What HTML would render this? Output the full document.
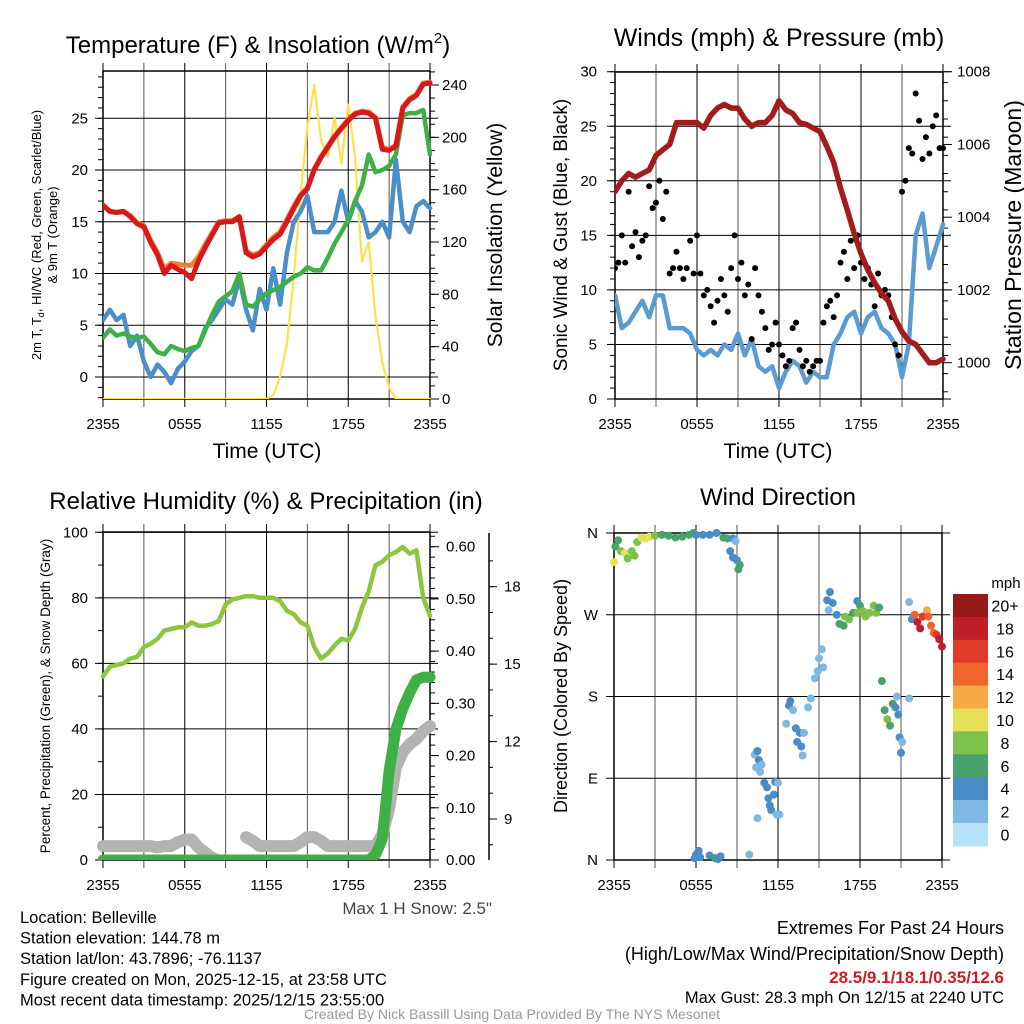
<!DOCTYPE html>
<html><head><meta charset="utf-8">
<style>
html,body{margin:0;padding:0;background:#fff;}
svg{display:block;font-family:"Liberation Sans",Arial,sans-serif;}
</style></head>
<body>
<svg id="chart" width="1024" height="1024" viewBox="0 0 1024 1024"></svg>
<script>
// ---------- DATA ----------
const hours = [0,0.5,1,1.5,2,2.5,3,3.5,4,4.5,5,5.5,6,6.5,7,7.5,8,8.5,9,9.5,10,10.5,11,11.5,12,12.5,13,13.5,14,14.5,15,15.5,16,16.5,17,17.5,18,18.5,19,19.5,20,20.5,21,21.5,22,22.5,23,23.5,24];
const xTickLabels = ["2355","0555","1155","1755","2355"];
const tempRed = [16.6,16.0,15.9,16.0,15.5,14.8,14.5,13.0,11.8,10.0,10.8,10.4,10.1,9.5,11.2,12.5,13.7,14.9,15.0,15.0,15.5,12.0,11.6,11.9,12.6,13.3,13.8,15.0,16.3,17.5,18.2,20.0,21.2,22.2,23.2,24.0,24.8,25.4,25.6,25.5,25.0,22.0,21.9,22.3,26.0,26.8,27.2,28.3,28.4];
const temp9mOrange = [16.6,16.0,15.9,16.0,15.6,14.9,14.6,13.2,12.0,10.4,11.0,10.9,10.8,10.8,11.6,12.8,13.9,15.0,15.1,15.1,15.5,12.2,11.8,12.0,12.8,13.5,14.0,15.2,16.5,17.6,18.3,20.1,21.3,22.3,23.3,24.1,24.9,25.5,25.7,25.6,25.1,22.2,22.0,22.4,26.1,26.9,27.3,28.4,28.5];
const dewGreen = [3.8,4.6,4.0,4.2,3.9,3.8,3.9,3.2,2.4,2.2,3.0,2.7,2.5,2.8,3.0,4.5,6.0,7.3,7.8,8.3,10.0,7.0,6.8,7.5,8.1,8.4,8.7,9.2,9.7,10.0,10.6,10.3,10.3,11.5,12.9,14.0,15.2,17.0,18.5,21.5,19.8,20.0,20.4,21.5,25.3,25.5,25.5,25.8,21.5];
const windChillBlue = [5.5,6.5,5.5,6.0,3.0,4.0,1.5,0.0,1.2,0.5,-0.6,0.8,1.5,2.5,3.0,4.7,5.5,6.5,7.5,7.0,9.5,6.5,4.5,8.5,6.5,10.5,7.0,12.0,15.0,16.0,17.5,14.0,14.0,14.0,15.0,18.0,15.0,17.0,16.0,13.5,14.0,15.0,13.5,21.0,15.0,14.0,16.5,17.0,16.3];
const solarYellow = [0,0,0,0,0,0,0,0,0,0,0,0,0,0,0,0,0,0,0,0,0,0,0,0,0,3,17,42,93,157,208,240,198,185,215,180,225,185,105,120,63,28,9,0,0,0,0,0,0];
const pressure = [1004.7,1005.0,1005.2,1005.1,1005.2,1005.3,1005.7,1005.85,1006.0,1006.6,1006.6,1006.6,1006.6,1006.45,1006.8,1007.0,1007.1,1007.0,1007.0,1006.7,1006.5,1006.6,1006.6,1006.8,1007.2,1006.95,1006.85,1006.6,1006.55,1006.45,1006.35,1005.95,1005.5,1004.8,1004.2,1003.55,1003.0,1002.55,1002.2,1001.9,1001.7,1001.2,1000.85,1000.6,1000.5,1000.25,1000.0,1000.0,1000.1];
const windSpeed = [9.5,6.5,7,8,9,7.5,9.5,9.5,6.5,6.5,6.5,6,4.5,4,4.5,4,5,4.5,6,4,5.5,3,2.5,3,1,2.5,3.5,3,1.5,2.5,2,2,5,6,7.5,8,6,7.5,8,6.5,6,5,2,5,15,17,12,14,16];
const gustHours = [];
for (let i = 0; i <= 96; i++) gustHours.push(i * 0.25);
const gusts = [12,12.5,15,12.5, 19,14,15.3,13, 14.5,15,19.5,17.5, 18,20,16.5,19, 11.5,12,13.5,12, 11,12,14.5,11.5, 15,11.5,9.5,10, 8.5,7,9,11, 9.5,8,12,15, 11,12.5,9.5,10.5, 5.5,12,9.5,8, 6.5,4.5,5,7, 5,4,3,3.5, 6.5,7,4.5,3, 3.5,2.5,3,3.5, 3.5,7,8.5,9, 7.5,9.5,12.5,13.5, 11,14.5,12,15, 12.5,11,12,10.5, 8.5,11.5,9.5,10, 9.5,7.5,5,4, 19,20,23,22.5, 28,25.5,22,24, 22.5,25,26,23, 23];
const relHum = [56,59,59.5,60,61.5,62,65,66,67.5,70,70.5,71,71,72.5,71.5,71.5,72,73,78,79.5,80,80.5,80.5,80,80,80,79,76,75,72.5,71.5,65,61.5,63,65.5,67.5,67,70.5,77,82,90,91,93,94,95.5,93.5,94.5,80,74.5];
const precip = [0,0,0,0,0,0,0,0,0,0,0,0,0,0,0,0,0,0,0,0,0,0,0,0,0,0,0,0,0,0,0,0,0,0,0,0,0,0,0,0,0.01,0.04,0.17,0.25,0.29,0.32,0.345,0.35,0.35];
const snowDepth = [7.95,7.95,7.95,7.95,7.95,7.95,7.95,7.95,7.9,7.95,7.95,8.1,8.2,8.2,7.9,7.7,7.5,7.4,null,null,null,8.3,8.15,7.95,7.95,7.95,7.95,7.95,7.95,8.1,8.3,8.3,8.15,7.95,7.95,7.95,7.95,7.95,7.95,7.95,7.95,8.4,9.4,11.0,11.6,11.9,12.1,12.4,12.6];
const dirHours = [0,0.1,0.3,0.5,0.8,1.0,1.3,1.5,1.7,2.0,2.3,2.6,3.0,3.5,4.0,4.5,5.0,5.5,5.8,6.0,6.5,7.0,7.5,8.0,8.3,8.7,8.9,8.5,8.7,9.0,9.2,9.1,5.9,6.0,6.2,6.3,7.0,7.4,7.8,7.6,9.9,10.3,10.5,10.6,10.8,10.4,10.7,11.0,11.2,11.3,11.4,11.5,10.5,11.8,11.7,12.0,11.9,12.1,12.6,12.8,12.9,13.1,13.3,13.4,13.6,13.7,13.8,13.9,14.2,14.4,14.7,14.9,15.0,15.2,15.3,15.6,15.8,15.7,16.0,16.3,16.5,16.8,17.2,17.5,17.8,18.0,18.2,18.4,18.7,19.0,19.2,19.4,16.9,17.8,19.6,19.8,20.0,20.2,20.4,20.6,20.8,20.9,21.1,21.0,20.7,21.6,21.6,21.8,22.0,22.2,22.4,22.6,22.9,23.0,23.2,23.4,23.6,23.8,24.0];
const dirDeg = [328,345,352,340,338,332,340,335,350,355,354,356,357,358,357,355,356,358,360,358,358,358,360,355,354,354,351,340,333,330,325,320,2,6,10,3,5,2,4,1,6,116,120,110,105,102,97,85,80,68,60,55,46,86,72,85,50,50,150,170,175,165,145,130,140,125,115,140,168,178,200,208,222,232,212,286,295,275,283,270,260,258,265,272,285,280,274,268,272,280,272,278,268,272,197,165,155,148,172,168,160,135,130,118,180,178,284,265,270,262,255,268,275,268,258,250,248,243,235];
const dirSpeed = [10,6,6,8,10,8,8,8,8,10,10,10,8,6,6,6,6,6,6,4,4,4,4,6,6,4,2,4,4,4,6,6,4,4,4,4,4,6,4,4,2,2,4,4,2,2,2,4,4,4,4,4,2,4,4,2,2,2,2,4,4,2,4,4,4,4,2,2,2,2,2,2,2,2,2,4,4,2,4,4,6,6,8,6,4,6,8,8,8,8,8,6,8,8,6,6,8,6,6,4,4,4,2,4,2,2,2,4,14,18,18,16,12,14,14,14,16,18,18];
const speedBins = ["0","2","4","6","8","10","12","14","16","18","20+"];
const speedColors = ["#b5e2f8","#7fb8e2","#4a8cc6","#47a36b","#7dc04a","#e6df57","#f7a948","#f0652d","#e03a2b","#bf1f27","#961a1c"];

// ---------- HELPERS ----------
const NS = "http://www.w3.org/2000/svg";
const svg = document.getElementById("chart");
const TICK = 15;
function mk(tag, attrs, parent) {
  const e = document.createElementNS(NS, tag);
  for (const k in attrs) e.setAttribute(k, attrs[k]);
  (parent || svg).appendChild(e);
  return e;
}
function txt(s, x, y, size, anchor, parent, extra) {
  const t = mk("text", Object.assign({x: x, y: y, "font-size": size, "text-anchor": anchor || "middle", fill: "#000"}, extra || {}), parent);
  t.textContent = s;
  return t;
}
function linFn(d0, d1, r0, r1) { return v => r0 + (v - d0) * (r1 - r0) / (d1 - d0); }
function pathFrom(xs, ys, xf, yf) {
  let d = "", pen = false;
  for (let i = 0; i < xs.length; i++) {
    if (ys[i] === null) { pen = false; continue; }
    d += (pen ? "L" : "M") + xf(xs[i]).toFixed(1) + "," + yf(ys[i]).toFixed(1);
    pen = true;
  }
  return d;
}
function frame(g, x0, x1, y0, y1) {
  const xf = linFn(0, 24, x0, x1);
  for (let h = 0; h <= 24; h += 3) {
    const gl = mk("line", {x1: xf(h), x2: xf(h), y1: y0 - 8, y2: y1 + 8, stroke: (h % 6 === 0) ? "#000" : "#555", "stroke-width": 1}, g);
    
    
  }
  xTickLabels.forEach((s, i) => {
    const t = txt(s, xf(i * 6), y1 + 30, TICK, "middle", g);
    
    
  });
  return xf;
}
function hgrid(g, x0, x1, ys) {
  ys.forEach(y => {
    const l = mk("line", {x1: x0 - 8, x2: x1 + 8, y1: y, y2: y, stroke: "#000", "stroke-width": 1}, g);
    
    
  });
}
function box(g, x0, x1, y0, y1) {
  const r = mk("rect", {x: x0, y: y0, width: x1 - x0, height: y1 - y0, fill: "none", stroke: "#000", "stroke-width": 1.5}, g);
  
  
}
function minorTicks(g, x, yf, from, to, step, dir) {
  for (let v = from; v <= to + 1e-9; v += step) {
    const y = yf(v);
    mk("line", {x1: x, x2: x + dir * 5, y1: y, y2: y, stroke: "#000", "stroke-width": 1}, g);
  }
}

// ---------- PANEL 1 ----------
(function () {
  const g = mk("g", {});  
  const x0 = 103, x1 = 430, y0 = 71, y1 = 399;
  const xf = frame(g, x0, x1, y0, y1);
  const yL = linFn(0, 25, 377, 118.3);
  const yR = linFn(0, 240, 399, 85);
  hgrid(g, x0, x1, [0,5,10,15,20,25].map(yL));
  minorTicks(g, x0, yL, -2, 29, 1, -1);
  minorTicks(g, x1, yR, 0, 250, 10, 1);
  box(g, x0, x1, y0, y1);
  [0,5,10,15,20,25].forEach(v => { const t = txt(String(v), 88, yL(v) + 5, TICK, "end", g);   });
  [0,40,80,120,160,200,240].forEach(v => { mk("line", {x1: x1, x2: x1 + 9, y1: yR(v), y2: yR(v), stroke: "#000"}, g); const t = txt(String(v), 442, yR(v) + 5, TICK, "start", g);   });
  const clip = mk("clipPath", {id: "c1"}, g); mk("rect", {x: x0, y: y0 - 6, width: x1 - x0 + 3, height: y1 - y0 + 6}, clip);
  const s = mk("g", {"clip-path": "url(#c1)"}, g);
  const series = [
    ["solar-insolation-line", solarYellow, yR, "#ffe04d", 2.2],
    ["wind-chill-line", windChillBlue, yL, "#4a8fc9", 4.5],
    ["dewpoint-line", dewGreen, yL, "#3fb046", 4.5],
    ["temp-9m-line", temp9mOrange, yL, "#f47f33", 5],
    ["temp-2m-line", tempRed, yL, "#d7191c", 5]
  ];
  series.forEach(([n, arr, yf, c, w]) => {
    const p = mk("path", {d: pathFrom(hours, arr, xf, yf), fill: "none", stroke: c, "stroke-width": w, "stroke-linejoin": "round", "stroke-linecap": "round"}, s);
    
    
  });
  const t = txt("Temperature (F) & Insolation (W/m", 258, 53, 24, "middle", g);
   
  const sup = mk("tspan", {dy: -10, "font-size": 15}, t); sup.textContent = "2";
  const cl = mk("tspan", {dy: 10}, t); cl.textContent = ")";
  const xl = txt("Time (UTC)", 267, 458, 21, "middle", g);  
  const yl = txt("2m T, T", 0, 0, 13, "middle", g, {transform: "translate(41,235) rotate(-90)"});
   
  const sub = mk("tspan", {dy: 3, "font-size": 9}, yl); sub.textContent = "d";
  const rest = mk("tspan", {dy: -3}, yl); rest.textContent = ", HI/WC (Red, Green, Scarlet/Blue)";
  const yl2 = txt("& 9m T (Orange)", 0, 0, 13, "middle", g, {transform: "translate(57,235) rotate(-90)"});
   
  const yr = txt("Solar Insolation (Yellow)", 0, 0, 21, "middle", g, {transform: "translate(502,235) rotate(-90)"});
   
})();

// ---------- PANEL 2 ----------
(function () {
  const g = mk("g", {});  
  const x0 = 615, x1 = 943, y0 = 72, y1 = 399;
  const xf = frame(g, x0, x1, y0, y1);
  const yL = linFn(0, 30, 399, 71.7);
  const yR = linFn(1000, 1008, 362.7, 71.7);
  hgrid(g, x0, x1, [0,5,10,15,20,25,30].map(yL));
  minorTicks(g, x0, yL, 0, 30, 1, -1);
  minorTicks(g, x1, yR, 999.2, 1008, 0.5, 1);
  box(g, x0, x1, y0, y1);
  [0,5,10,15,20,25,30].forEach(v => { const t = txt(String(v), 597, yL(v) + 5, TICK, "end", g);   });
  [1000,1002,1004,1006,1008].forEach(v => { mk("line", {x1: x1, x2: x1 + 9, y1: yR(v), y2: yR(v), stroke: "#000"}, g); const t = txt(String(v), 957, yR(v) + 5, TICK, "start", g);   });
  const clip = mk("clipPath", {id: "c2"}, g); mk("rect", {x: x0, y: y0, width: x1 - x0 + 3, height: y1 - y0}, clip);
  const s = mk("g", {"clip-path": "url(#c2)"}, g);
  const w = mk("path", {d: pathFrom(hours, windSpeed, xf, yL), fill: "none", stroke: "#5a9bd3", "stroke-width": 4.5, "stroke-linejoin": "round", "stroke-linecap": "round"}, s);
   
  gusts.forEach((v, i) => {
    const c = mk("circle", {cx: xf(gustHours[i]), cy: yL(v), r: 3, fill: "#000"}, s);
    
    
  });
  const p = mk("path", {d: pathFrom(hours, pressure, xf, yR), fill: "none", stroke: "#a31b1b", "stroke-width": 5.5, "stroke-linejoin": "round", "stroke-linecap": "round"}, s);
   
  const t = txt("Winds (mph) & Pressure (mb)", 779, 46, 25, "middle", g);  
  const xl = txt("Time (UTC)", 778, 458, 21, "middle", g);  
  const yl = txt("Sonic Wind & Gust (Blue, Black)", 0, 0, 19, "middle", g, {transform: "translate(567,235) rotate(-90)"});  
  const yr = txt("Station Pressure (Maroon)", 0, 0, 23, "middle", g, {transform: "translate(1021,235) rotate(-90)"});  
})();

// ---------- PANEL 3 ----------
(function () {
  const g = mk("g", {});  
  const x0 = 103, x1 = 430, y0 = 532, y1 = 860;
  const xf = frame(g, x0, x1, y0, y1);
  const yL = linFn(0, 100, 860, 532.3);
  const yR = linFn(0, 0.6, 860, 546.7);
  const y3 = linFn(9, 18, 819, 586.7);
  hgrid(g, x0, x1, [0,20,40,60,80,100].map(yL));
  minorTicks(g, x0, yL, 0, 100, 10, -1);
  minorTicks(g, x1, yR, 0, 0.62, 0.02, 1);
  box(g, x0, x1, y0, y1);
  [0,20,40,60,80,100].forEach(v => { const t = txt(String(v), 88, yL(v) + 5, TICK, "end", g);   });
  ["0.00","0.10","0.20","0.30","0.40","0.50","0.60"].forEach(s => { const v = parseFloat(s); mk("line", {x1: x1, x2: x1 + 9, y1: yR(v), y2: yR(v), stroke: "#000"}, g); const t = txt(s, 446, yR(v) + 5, TICK, "start", g);   });
  const ax3 = mk("line", {x1: 489, x2: 489, y1: 533, y2: 860, stroke: "#000", "stroke-width": 1.5}, g);  
  for (let v = 8; v <= 19.5; v += 1) mk("line", {x1: 489, x2: 493, y1: y3(v), y2: y3(v), stroke: "#000"}, g);
  [9,12,15,18].forEach(v => { mk("line", {x1: 489, x2: 497, y1: y3(v), y2: y3(v), stroke: "#000"}, g); const t = txt(String(v), 504, y3(v) + 5, TICK, "start", g);   });
  const clip = mk("clipPath", {id: "c3"}, g); mk("rect", {x: x0 - 8, y: y0, width: x1 - x0 + 16, height: y1 - y0}, clip);
  const s = mk("g", {"clip-path": "url(#c3)"}, g);
  const sd = mk("path", {d: pathFrom(hours, snowDepth, xf, y3), fill: "none", stroke: "#b3b3b3", "stroke-width": 12, "stroke-linejoin": "round", "stroke-linecap": "round"}, s);
   
  const pr = mk("path", {d: pathFrom(hours, precip, xf, yR), fill: "none", stroke: "#3fb046", "stroke-width": 11, "stroke-linejoin": "round", "stroke-linecap": "round"}, s);
   
  const rh = mk("path", {d: pathFrom(hours, relHum, xf, yL), fill: "none", stroke: "#8cc63f", "stroke-width": 4.5, "stroke-linejoin": "round", "stroke-linecap": "round"}, s);
   
  const t = txt("Relative Humidity (%) & Precipitation (in)", 266, 509, 24, "middle", g);  
  const yl = txt("Percent, Precipitation (Green), & Snow Depth (Gray)", 0, 0, 13.5, "middle", g, {transform: "translate(50,696) rotate(-90)"});  
  const ms = txt("Max 1 H Snow: 2.5\"", 492, 914, 17, "end", g, {fill: "#444"});  
})();

// ---------- PANEL 4 ----------
(function () {
  const g = mk("g", {});  
  const x0 = 614, x1 = 942, y0 = 533, y1 = 860;
  const xf = frame(g, x0, x1, y0, y1);
  const yD = linFn(0, 360, 860, 533);
  hgrid(g, x0, x1, [0,90,180,270,360].map(yD));
  box(g, x0, x1, y0, y1);
  [["N",0],["E",90],["S",180],["W",270],["N",360]].forEach(([s, v]) => { const t = txt(s, 598, yD(v) + 5, TICK, "end", g);   });
  const s = mk("g", {}, g);
  dirDeg.forEach((d, i) => {
    const idx = Math.min(10, Math.floor(dirSpeed[i] / 2));
    const c = mk("circle", {cx: xf(dirHours[i]), cy: yD(d), r: 4, fill: speedColors[idx]}, s);
    
    
  });
  const t = txt("Wind Direction", 778, 505, 24, "middle", g);  
  const yl = txt("Direction (Colored By Speed)", 0, 0, 18, "middle", g, {transform: "translate(567,696) rotate(-90)"});  
  const cb = mk("g", {}, g);  
  const top = 594, bh = 22.9;
  for (let k = 0; k < speedBins.length; k++) {
    const j = speedBins.length - 1 - k;
    const r = mk("rect", {x: 953, y: top + k * bh, width: 35, height: bh + 0.5, fill: speedColors[j]}, cb);
    
    
    const lt = txt(speedBins[j], 1005, top + k * bh + bh / 2 + 6, 16, "middle", cb);
    
    
  }
  const mph = txt("mph", 1006, 588, 15, "middle", cb);  
})();

// ---------- TEXT ----------
(function () {
  const g = mk("g", {});  
  ["Location: Belleville","Station elevation: 144.78 m","Station lat/lon: 43.7896; -76.1137","Figure created on Mon, 2025-12-15, at 23:58 UTC","Most recent data timestamp: 2025/12/15 23:55:00"].forEach((s, i) => {
    const t = txt(s, 20, 923 + i * 20.6, 16.5, "start", g);
    
    
  });
  const g2 = mk("g", {});  
  const a = txt("Extremes For Past 24 Hours", 1004, 934, 18, "end", g2);  
  const b = txt("(High/Low/Max Wind/Precipitation/Snow Depth)", 1004, 960, 18, "end", g2);  
  const c = txt("28.5/9.1/18.1/0.35/12.6", 1004, 983, 17, "end", g2, {fill: "#d01c22", "font-weight": "bold"});  
  const d = txt("Max Gust: 28.3 mph On 12/15 at 2240 UTC", 1004, 1003, 16.5, "end", g2);  
  const f = txt("Created By Nick Bassill Using Data Provided By The NYS Mesonet", 512, 1019, 14, "middle", null, {fill: "#999"});  
})();
</script>
</body></html>
